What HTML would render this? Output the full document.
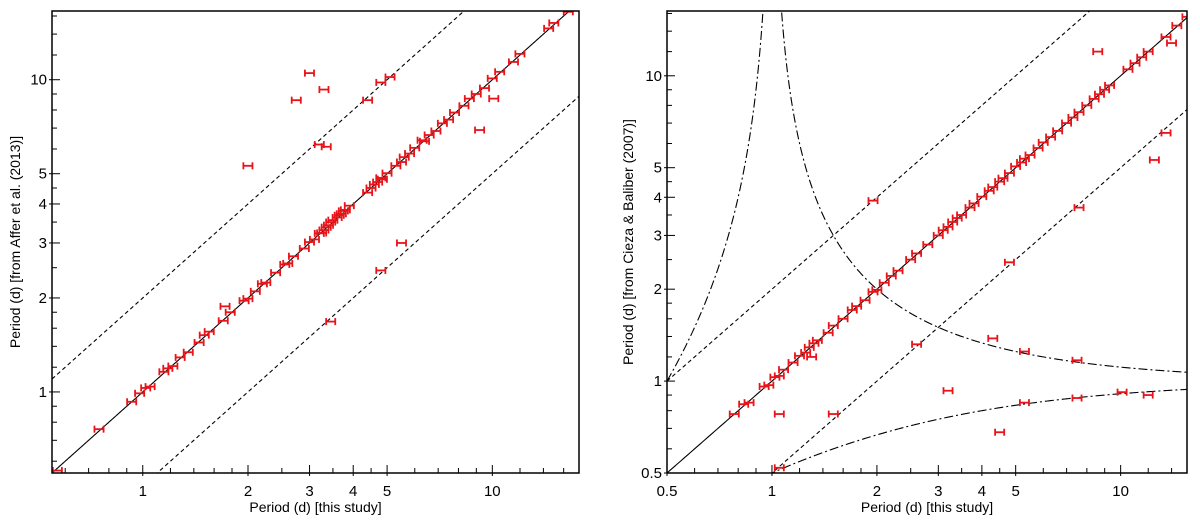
<!DOCTYPE html>
<html><head><meta charset="utf-8">
<style>
html,body{margin:0;padding:0;background:#fff;width:1200px;height:521px;overflow:hidden;}
svg{display:block;font-family:"Liberation Sans",sans-serif;overflow:hidden;}
</style></head>
<body>
<svg id="chart" width="1200" height="521" viewBox="0 0 1200 521" xmlns="http://www.w3.org/2000/svg"></svg>
<script>
// ---- Left panel data (Affer et al. 2013 vs this study) ----
const leftX = [0.57,0.75,0.93,0.98,1.02,1.05,1.15,1.18,1.22,1.28,1.35,1.45,1.5,1.55,1.7,1.78,1.95,2.0,2.1,2.2,2.25,2.4,2.55,2.6,2.7,2.9,3.0,3.1,3.2,3.25,3.3,3.35,3.4,3.45,3.5,3.6,3.65,3.7,3.75,3.8,3.9,4.4,4.5,4.6,4.7,4.8,4.85,5.0,5.3,5.5,5.6,5.8,6.0,6.4,6.6,6.9,7.2,7.5,7.8,8.3,8.6,9.0,9.5,10.0,10.5,11.5,12.0,14.5,15.0,16.5,
  2.0,2.75,3.0,3.3,3.2,3.35,4.8,5.1,4.4,3.45,4.8,5.5,9.2,10.1,1.72,6.3];
const leftY = [0.56,0.76,0.93,0.99,1.03,1.04,1.16,1.19,1.21,1.29,1.34,1.44,1.52,1.56,1.69,1.8,1.96,1.99,2.1,2.22,2.24,2.41,2.56,2.58,2.72,2.88,3.02,3.08,3.22,3.23,3.3,3.37,3.42,3.5,3.55,3.62,3.68,3.72,3.8,3.83,3.95,4.35,4.5,4.62,4.7,4.85,4.8,5.02,5.3,5.45,5.65,5.8,6.05,6.35,6.65,6.85,7.25,7.45,7.85,8.25,8.7,9.0,9.4,10.1,10.6,11.4,12.1,14.6,15.2,16.5,
  5.3,8.6,10.5,9.3,6.2,6.1,9.8,10.2,8.6,1.68,2.45,3.0,6.9,8.7,1.88,6.4];

// ---- Right panel data (Cieza & Baliber 2007 vs this study) ----
const rightX = [0.78,0.83,0.86,0.95,0.98,1.02,1.05,1.08,1.15,1.2,1.25,1.28,1.32,1.35,1.45,1.5,1.6,1.7,1.75,1.85,1.95,2.0,2.1,2.2,2.3,2.5,2.6,2.8,3.0,3.1,3.2,3.3,3.4,3.5,3.7,3.8,4.0,4.2,4.3,4.5,4.6,4.8,5.0,5.2,5.3,5.5,5.8,6.0,6.3,6.6,7.0,7.3,7.6,8.0,8.4,8.7,9.0,9.3,10.5,11.0,11.5,12.0,13.5,14.5,15.5,
  1.95,1.05,1.5,1.3,3.2,4.5,5.3,7.5,10.1,12.0,4.8,2.6,4.3,5.3,7.5,7.6,12.5,13.5,8.6,14.0,1.05];
const rightY = [0.78,0.84,0.85,0.96,0.97,1.03,1.04,1.09,1.15,1.21,1.24,1.29,1.33,1.36,1.44,1.52,1.6,1.71,1.76,1.84,1.96,1.99,2.1,2.21,2.3,2.5,2.62,2.8,3.0,3.12,3.2,3.32,3.42,3.5,3.7,3.82,4.02,4.2,4.32,4.5,4.62,4.8,5.05,5.2,5.35,5.5,5.8,6.05,6.3,6.6,7.0,7.3,7.6,8.0,8.4,8.7,9.0,9.3,10.5,11.0,11.5,12.0,13.4,14.6,15.6,
  3.9,0.78,0.78,1.2,0.93,0.68,0.85,0.88,0.92,0.9,2.45,1.32,1.38,1.25,1.17,3.7,5.3,6.5,12.0,12.8,0.52];

const leftXTicks = [1,2,3,4,5,10];
const leftYTicks = [1,2,3,4,5,10];
const rightXTicks = [0.5,1,2,3,4,5,10];
const rightYTicks = [0.5,1,2,3,4,5,10];
const minorTicks = [0.5,0.6,0.7,0.8,0.9,1.2,1.4,1.6,1.8,2.5,3.5,4.5,6,7,8,9,12,14,16];

const NS = "http://www.w3.org/2000/svg";
const svg = document.getElementById('chart');
function el(tag, attrs, parent){
  const e = document.createElementNS(NS, tag);
  for (const k in attrs) e.setAttribute(k, attrs[k]);
  (parent||svg).appendChild(e);
  return e;
}
function logScale(d0,d1,r0,r1){
  const a=Math.log10(d0), b=Math.log10(d1);
  return v => r0 + (Math.log10(v)-a)/(b-a)*(r1-r0);
}

function panel(cfg){
  const g = el('g',{});
  
  
  const sx = logScale(cfg.xd[0],cfg.xd[1],cfg.L,cfg.R);
  const sy = logScale(cfg.yd[0],cfg.yd[1],cfg.B,cfg.T);
  const clipId = cfg.name+'-clip';
  const cp = el('clipPath',{id:clipId},g);
  el('rect',{x:cfg.L,y:cfg.T,width:cfg.R-cfg.L,height:cfg.B-cfg.T},cp);
  const plot = el('g',{'clip-path':'url(#'+clipId+')'},g);
  
  

  const ylo = cfg.yd[0]*0.98, yhi = cfg.yd[1]*1.02;
  function curve(fn, dash, nm, x0, x1){
    let d=''; const N=600; let pen=false;
    for(let i=0;i<=N;i++){
      const xv = Math.pow(10, Math.log10(x0)+ (Math.log10(x1)-Math.log10(x0))*i/N);
      const yv = fn(xv);
      if(!isFinite(yv)||yv<ylo||yv>yhi){pen=false;continue;}
      d += (pen?'L':'M')+sx(xv).toFixed(2)+','+sy(yv).toFixed(2);
      pen=true;
    }
    const p = el('path',{d:d,fill:'none',stroke:'#000','stroke-width':1.1,'stroke-dasharray':dash},plot);
    
    
  }
  const xa=cfg.xd[0], xb=cfg.xd[1];
  curve(v=>v,'none','one-to-one-line',xa,xb);
  curve(v=>2*v,'4,3','double-period-line',xa,xb);
  curve(v=>v/2,'4,3','half-period-line',xa,xb);
  if(cfg.beat){
    curve(v=>v/Math.abs(1-v),'9,3,2,3','beat-upper-left',xa,0.9999);
    curve(v=>v/Math.abs(1-v),'9,3,2,3','beat-upper-right',1.0001,xb);
    curve(v=>v/(1+v),'9,3,2,3','beat-lower',xa,xb);
  }

  for(let i=0;i<cfg.px.length;i++){
    const x=cfg.px[i], y=cfg.py[i];
    const x1=sx(x*0.97), x2=sx(x*1.03), yy=sy(y);
    const pg = el('g',{stroke:'#e8141a','stroke-width':1.8,fill:'none'},plot);
    
    
    el('line',{x1:x1,y1:yy,x2:x2,y2:yy},pg);
    el('line',{x1:x1,y1:yy-3.5,x2:x1,y2:yy+3.5},pg);
    el('line',{x1:x2,y1:yy-3.5,x2:x2,y2:yy+3.5},pg);
  }

  const fr = el('rect',{x:cfg.L,y:cfg.T,width:cfg.R-cfg.L,height:cfg.B-cfg.T,fill:'none',stroke:'#000','stroke-width':1.5},g);
  
  

  const ax = el('g',{stroke:'#000','stroke-width':1},g);
  
  
  minorTicks.forEach(t=>{
    const X=sx(t); if(X>cfg.L+0.5&&X<cfg.R-0.5) el('line',{x1:X,y1:cfg.B,x2:X,y2:cfg.B-5},ax);
    const Y=sy(t); if(Y<cfg.B-0.5&&Y>cfg.T+0.5) el('line',{x1:cfg.L,y1:Y,x2:cfg.L+5,y2:Y},ax);
  });
  cfg.xt.forEach(t=>{
    const X=sx(t);
    el('line',{x1:X,y1:cfg.B+3,x2:X,y2:cfg.B-8},ax);
    const tx = el('text',{x:X,y:cfg.B+23,'text-anchor':'middle','font-size':15,fill:'#000',stroke:'none'},g);
    tx.textContent=String(t);
    
    
  });
  cfg.yt.forEach(t=>{
    const Y=sy(t);
    el('line',{x1:cfg.L-3,y1:Y,x2:cfg.L+8,y2:Y},ax);
    const tx = el('text',{x:cfg.L-5,y:Y+5,'text-anchor':'end','font-size':15,fill:'#000',stroke:'none'},g);
    tx.textContent=String(t);
    
    
  });
  const xt = el('text',{x:(cfg.L+cfg.R)/2,y:512,'text-anchor':'middle','font-size':14,fill:'#000'},g);
  xt.textContent='Period (d) [this study]';
  
  
  const yc=(cfg.T+cfg.B)/2;
  const yt = el('text',{x:cfg.ytx,y:yc,'text-anchor':'middle','font-size':14,fill:'#000',transform:'rotate(-90 '+cfg.ytx+' '+yc+')'},g);
  yt.textContent=cfg.ytitle;
  
  
}

panel({name:'left-panel',L:52,R:579,T:11,B:473,xd:[0.55,17.7],yd:[0.55,16.6],
  px:leftX,py:leftY,xt:leftXTicks,yt:leftYTicks,beat:false,ytx:20,
  ytitle:'Period (d) [from Affer et al. (2013)]'});
panel({name:'right-panel',L:667,R:1187,T:11,B:473,xd:[0.5,15.5],yd:[0.5,16.3],
  px:rightX,py:rightY,xt:rightXTicks,yt:rightYTicks,beat:true,ytx:633,
  ytitle:'Period (d) [from Cieza & Baliber (2007)]'});
</script>
</body></html>
